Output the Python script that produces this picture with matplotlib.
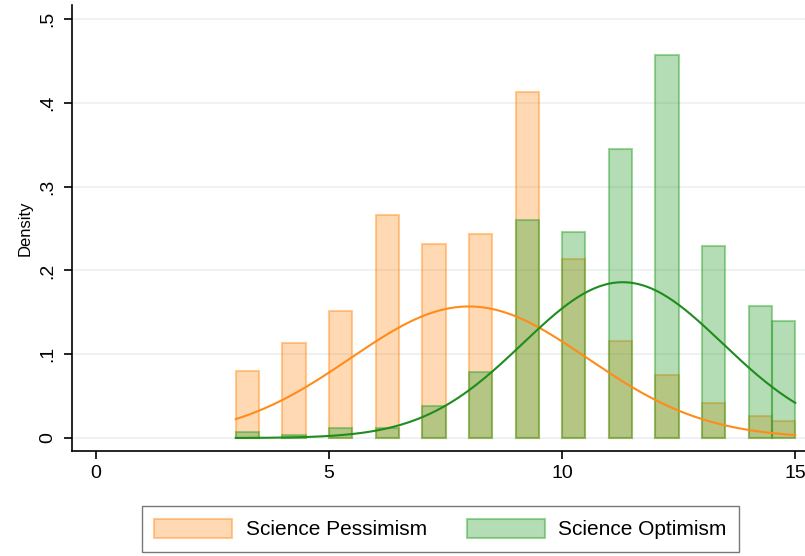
import numpy as np
import matplotlib
matplotlib.use("Agg")
import matplotlib.pyplot as plt
from matplotlib.colors import to_rgba
from matplotlib.patches import Patch

plt.rcParams["font.family"] = ["Liberation Sans", "DejaVu Sans"]

# histogram bins (left edge, width 0.5)
bin_left = [3, 4, 5, 6, 7, 8, 9, 10, 11, 12, 13, 14, 14.5]
pessimism = [0.080, 0.113, 0.152, 0.266, 0.231, 0.243, 0.413, 0.214, 0.116, 0.075, 0.042, 0.026, 0.020]
optimism = [0.007, 0.004, 0.012, 0.012, 0.038, 0.079, 0.260, 0.246, 0.345, 0.457, 0.229, 0.158, 0.140]

# normal overlays (mean, sd)
pess_mean, pess_sd = 8.0, 2.54
opt_mean, opt_sd = 11.3, 2.145

orange = "#ff8c1a"
green = "#2ca02c"

fig = plt.figure(figsize=(8.05, 5.56), dpi=100)
ax = fig.add_axes([0.0894, 0.1888, 0.9106, 0.802])

ax.bar(bin_left, pessimism, width=0.5, align="edge",
       facecolor=to_rgba(orange, 0.33), edgecolor=to_rgba(orange, 0.45), linewidth=1.5, zorder=2)
ax.bar(bin_left, optimism, width=0.5, align="edge",
       facecolor=to_rgba(green, 0.35), edgecolor=to_rgba(green, 0.45), linewidth=1.5, zorder=3)

xs = np.linspace(3, 15, 300)
def npdf(x, m, s):
    return np.exp(-0.5 * ((x - m) / s) ** 2) / (s * np.sqrt(2 * np.pi))
ax.plot(xs, npdf(xs, pess_mean, pess_sd), color=orange, lw=1.5, zorder=4)
ax.plot(xs, npdf(xs, opt_mean, opt_sd), color="#1e8c1e", lw=1.5, zorder=4)

ax.set_xlim(-0.515, 15.21)
ax.set_ylim(-0.0155, 0.5167)
ax.set_xticks([0, 5, 10, 15])
ax.set_yticks([0, 0.1, 0.2, 0.3, 0.4, 0.5])
ax.set_yticklabels(["0", ".1", ".2", ".3", ".4", ".5"], rotation=90, va="center")
ax.tick_params(labelsize=14, length=6, width=1.2, direction="out")
ax.tick_params(axis="x", pad=4)
ax.tick_params(axis="y", pad=5)
ax.grid(axis="y", color="#eaf0f2", lw=1.2, zorder=0)
ax.set_axisbelow(True)
for s in ["top", "right"]:
    ax.spines[s].set_visible(False)
for s in ["left", "bottom"]:
    ax.spines[s].set_linewidth(1.2)
ax.set_ylabel("Density", fontsize=12, labelpad=5)

handles = [
    Patch(facecolor=to_rgba(orange, 0.33), edgecolor=to_rgba(orange, 0.45), lw=1.5, label="Science Pessimism"),
    Patch(facecolor=to_rgba(green, 0.35), edgecolor=to_rgba(green, 0.45), lw=1.5, label="Science Optimism"),
]
leg = fig.legend(handles=handles, loc="lower center", bbox_to_anchor=(0.547, 0.0), ncol=2,
                 fontsize=15, frameon=True, fancybox=False, handlelength=3.75, handleheight=1.0,
                 columnspacing=1.9, borderpad=0.6, handletextpad=0.65, borderaxespad=0.2)
leg.get_frame().set_edgecolor("#555555")
leg.get_frame().set_linewidth(1.0)

fig.savefig("out.png", dpi=100)
